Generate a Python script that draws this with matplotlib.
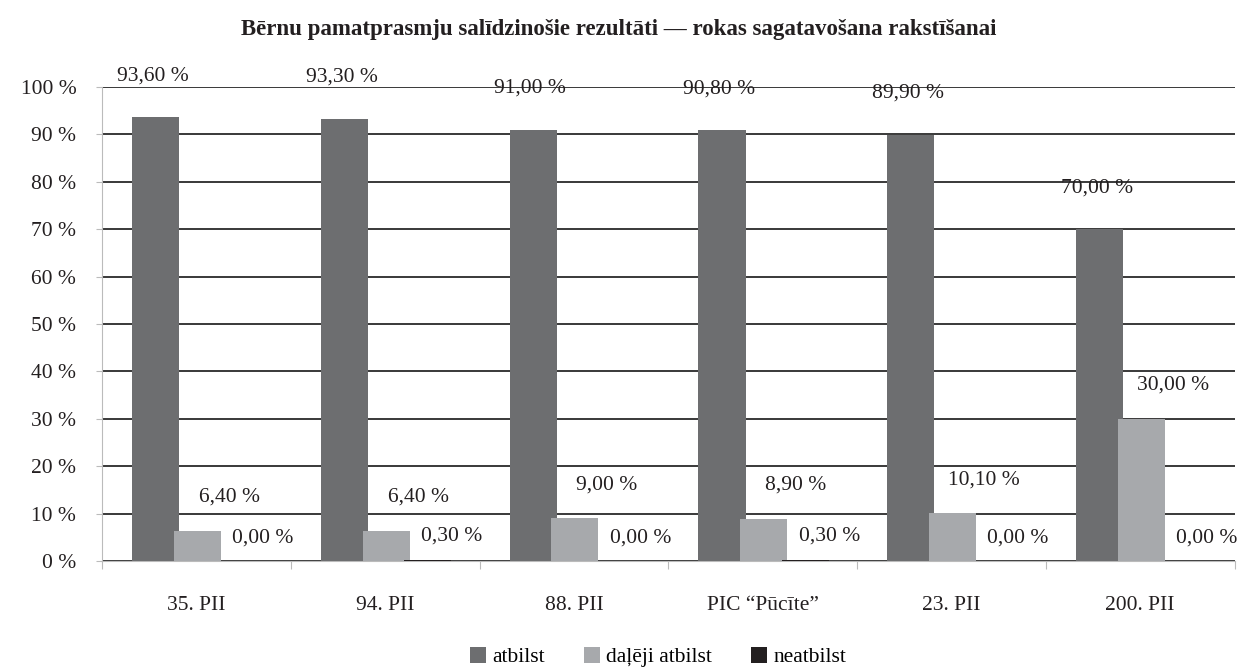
import matplotlib.pyplot as plt
import numpy as np

plt.rcParams['font.family'] = ['Liberation Serif', 'DejaVu Serif']

# data
categories = ['35. PII', '94. PII', '88. PII', 'PIC “Pūcīte”', '23. PII', '200. PII']
atbilst = [93.6, 93.3, 91.0, 90.8, 89.9, 70.0]
daleji = [6.4, 6.4, 9.0, 8.9, 10.1, 30.0]
neatbilst = [0.0, 0.3, 0.0, 0.3, 0.0, 0.0]
series_names = ['atbilst', 'daļēji atbilst', 'neatbilst']
colors = ['#6d6e70', '#a7a9ac', '#231f20']

fig = plt.figure(figsize=(12.37, 6.68), dpi=100)
ax = fig.add_axes([0.0825, 0.160, 0.9155, 0.710])

x = np.arange(len(categories)) + 0.5
width = 0.25
offsets = [-0.215, 0.005, 0.225]
# label nudges in pixels (x, y above bar top)
label_dx = [-3, 32, 24]
label_dy = [32, 24, 14]

for i, (vals, name, col) in enumerate(zip([atbilst, daleji, neatbilst], series_names, colors)):
    bars = ax.bar(x + offsets[i], vals, width, color=col, label=name, zorder=3)
    for b, v in zip(bars, vals):
        ax.annotate(f'{v:.2f} %'.replace('.', ','),
                    (b.get_x() + b.get_width() / 2, v),
                    xytext=(label_dx[i], label_dy[i]), textcoords='offset pixels',
                    ha='center', va='bottom', fontsize=15.5, color='#231f20',
                    annotation_clip=False)

ax.set_xlim(0, len(categories))
ax.set_ylim(0, 100)
ax.set_yticks(range(0, 101, 10))
ax.set_yticklabels([f'{t} %' for t in range(0, 101, 10)], fontsize=15.5, color='#231f20')
ax.yaxis.grid(True, color='#2a2a2a', linewidth=1.3, zorder=0)
ax.tick_params(axis='y', length=4.5, color='#bbbbbb', pad=14)

ax.set_xticks(np.arange(len(categories) + 1))
ax.set_xticklabels([])
ax.set_xticks(x, minor=True)
ax.set_xticklabels(categories, minor=True, fontsize=15.5, color='#231f20')
ax.tick_params(axis='x', which='major', length=6, color='#bbbbbb')
ax.tick_params(axis='x', which='minor', length=0, pad=25)

for s in ['top', 'right']:
    ax.spines[s].set_visible(False)
ax.spines['left'].set_color('#bbbbbb')
ax.spines['bottom'].set_color('#bbbbbb')

fig.suptitle('Bērnu pamatprasmju salīdzinošie rezultāti — rokas sagatavošana rakstīšanai',
             y=0.972, fontsize=16.5, fontweight='bold', color='#231f20')

fig.legend(loc='lower center', bbox_to_anchor=(0.532, -0.028), ncol=3, frameon=False,
           fontsize=15.5, handlelength=0.75, handleheight=0.75, handletextpad=0.3,
           columnspacing=1.8)

fig.savefig('out.png', dpi=100)
